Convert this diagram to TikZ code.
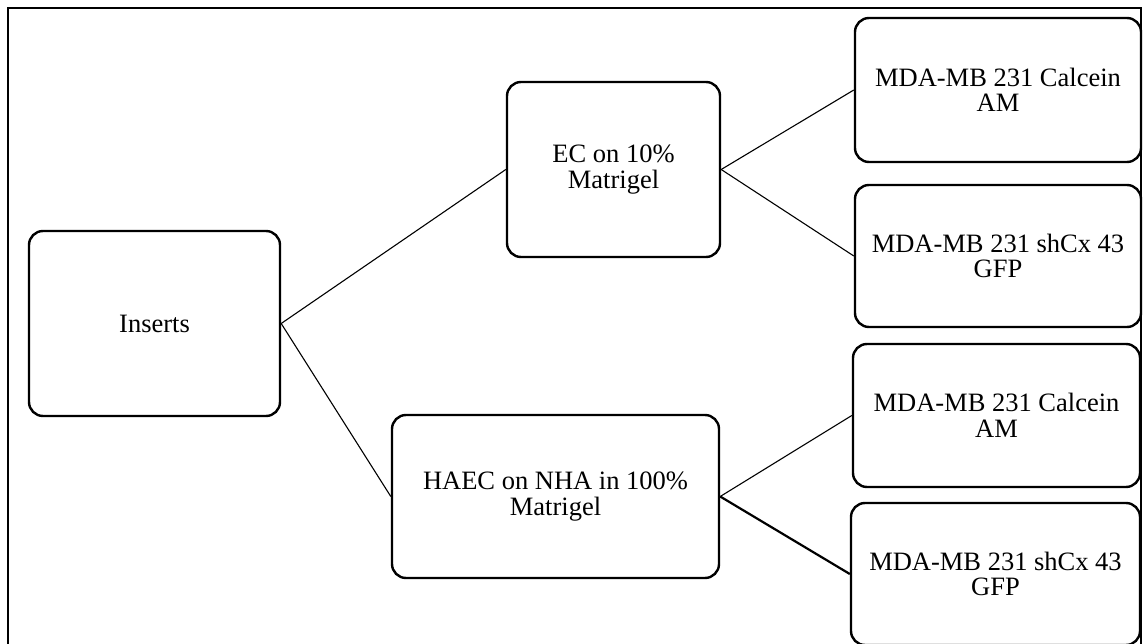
\documentclass[tikz,border=0pt]{standalone}
\usepackage{fontspec}
\setmainfont{Liberation Serif}
\begin{document}
\begin{tikzpicture}[x=1pt,y=-1pt,
  box/.style={draw=black,line width=2.4pt,rounded corners=14pt,align=center,inner sep=0pt,
    font=\fontsize{26.5}{25.5}\selectfont},
  link/.style={draw=black,line width=1.1pt},
  thicklink/.style={draw=black,line width=2.2pt}]
\useasboundingbox (0,0) rectangle (1143,644);
\clip (0,0) rectangle (1143,644);
\draw[line width=2.4pt] (8,670) -- (8,8) -- (1141,8) -- (1141,670);
\node[box,minimum width=251pt,minimum height=185pt] (ins) at (154.5,323.5) {Inserts};
\node[box,minimum width=213pt,minimum height=175pt] (ec) at (613.5,169.5) {EC on 10\%\\Matrigel};
\node[box,minimum width=327pt,minimum height=163pt] (haec) at (555.5,496.5) {HAEC on NHA in 100\%\\Matrigel};
\node[box,minimum width=286pt,minimum height=144pt] (r1) at (998,90) {MDA-MB 231 Calcein\\AM};
\node[box,minimum width=286pt,minimum height=142pt] (r2) at (998,256) {MDA-MB 231 shCx 43\\GFP};
\node[box,minimum width=287pt,minimum height=143pt] (r3) at (996.5,415.5) {MDA-MB 231 Calcein\\AM};
\node[box,minimum width=289pt,minimum height=142pt] (r4) at (995.5,574) {MDA-MB 231 shCx 43\\GFP};
\draw[link] (ins.east) -- (ec.west);
\draw[link] (ins.east) -- (haec.west);
\draw[link] (ec.east) -- (r1.west);
\draw[link] (ec.east) -- (r2.west);
\draw[link] (haec.east) -- (r3.west);
\draw[thicklink] (haec.east) -- (r4.west);
\end{tikzpicture}
\end{document}
